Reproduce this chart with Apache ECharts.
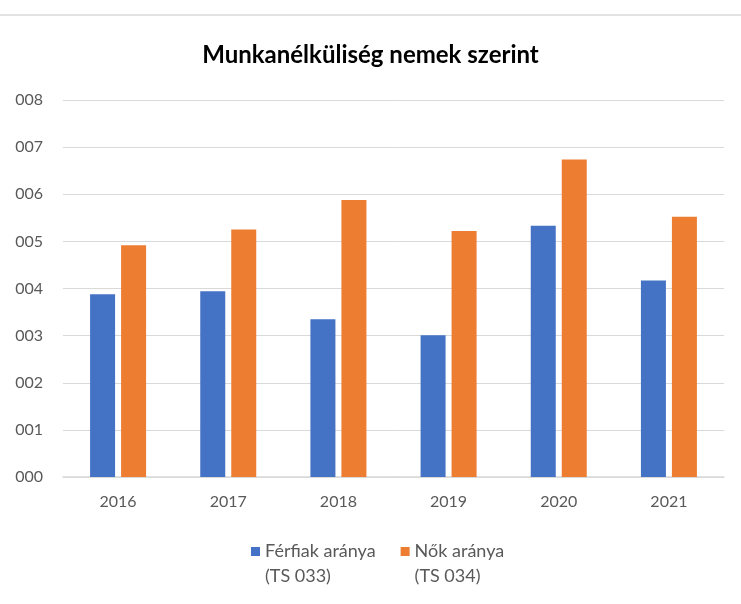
<!DOCTYPE html>
<html>
<head>
<meta charset="utf-8">
<script src="https://cdn.jsdelivr.net/npm/echarts@6/dist/echarts.min.js"></script>
<style>
html,body{margin:0;padding:0;background:#fff;}
#chart{width:741px;height:604px;}
</style>
</head>
<body>
<div id="chart"></div>
<script>
var categories = ['2016', '2017', '2018', '2019', '2020', '2021'];
var seriesNames = ['Férfiak aránya\n(TS 033)', 'Nők aránya\n(TS 034)'];
var menValues = [3.88, 3.94, 3.35, 3.01, 5.33, 4.17];
var womenValues = [4.92, 5.25, 5.88, 5.22, 6.74, 5.52];
var chartTitle = 'Munkanélküliség nemek szerint';

var chart = echarts.init(document.getElementById('chart'), null, {renderer: 'canvas'});
var font = 'Lato, "Open Sans", "DejaVu Sans", sans-serif';
chart.setOption({
  animation: false,
  backgroundColor: '#ffffff',
  title: {
    text: chartTitle,
    left: 'center',
    top: 38,
    textStyle: {fontFamily: font, fontSize: 24, fontWeight: 'bold', color: '#000000'}
  },
  graphic: [{
    type: 'line',
    shape: {x1: 0, y1: 15, x2: 741, y2: 15},
    style: {stroke: '#d9d9d9', lineWidth: 1.5}
  }],
  legend: {
    left: 246,
    top: 509,
    itemWidth: 9,
    itemHeight: 9,
    itemGap: 25,
    icon: 'rect',
    data: seriesNames,
    formatter: function (name) { return ' \n' + name; },
    textStyle: {fontFamily: font, fontSize: 18, color: '#595959', lineHeight: 25}
  },
  grid: {left: 63, right: 17, top: 100, bottom: 127, containLabel: false},
  xAxis: {
    type: 'category',
    data: categories,
    axisLine: {lineStyle: {color: '#d9d9d9', width: 1.5}},
    axisTick: {show: false},
    axisLabel: {fontFamily: font, fontSize: 16, color: '#595959', margin: 17}
  },
  yAxis: {
    type: 'value',
    min: 0,
    max: 8,
    interval: 1,
    axisLine: {show: false},
    axisTick: {show: false},
    splitLine: {lineStyle: {color: '#d9d9d9', width: 1}},
    axisLabel: {
      fontFamily: font, fontSize: 16, color: '#595959', margin: 20,
      formatter: function (v) { return String(Math.round(v)).padStart(3, '0'); }
    }
  },
  series: [
    {name: seriesNames[0], type: 'bar', data: menValues, barWidth: 25, barGap: '24%',
     itemStyle: {color: '#4472C4'}},
    {name: seriesNames[1], type: 'bar', data: womenValues, barWidth: 25,
     itemStyle: {color: '#ED7D31'}}
  ]
});
</script>
</body>
</html>
